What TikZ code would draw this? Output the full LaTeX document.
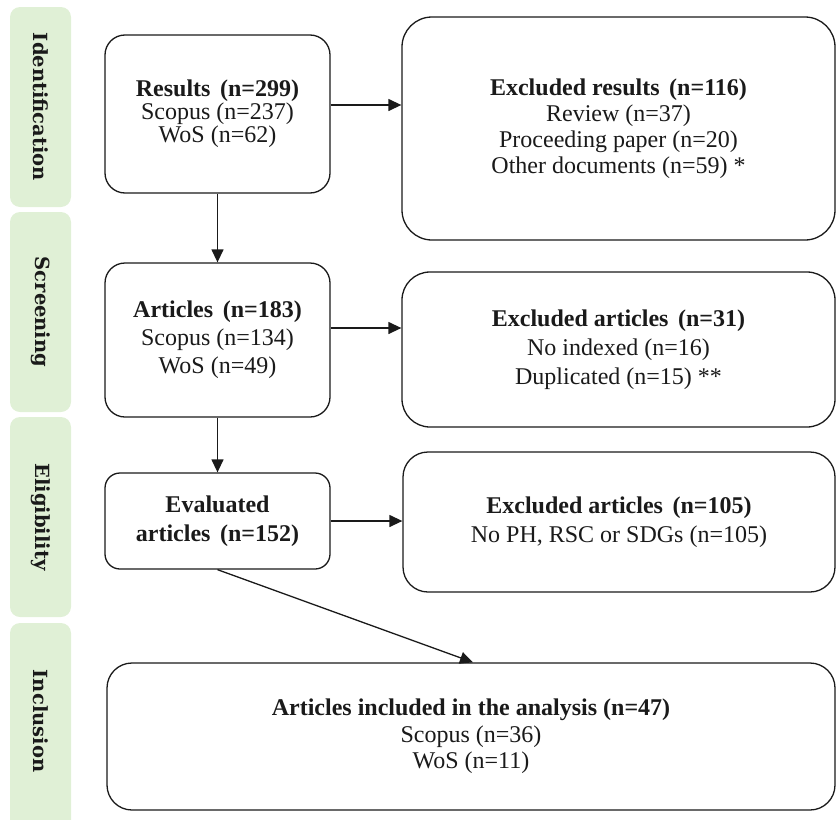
\documentclass[tikz,border=0pt]{standalone}
\usepackage{fontspec}
\setmainfont{Liberation Serif}
\newfontfamily\barfont{DejaVu Serif}
\usetikzlibrary{arrows.meta}
\definecolor{barg}{HTML}{E0F0D6}
\definecolor{ink}{HTML}{1A1A1A}
\tikzset{
  flowbox/.style={draw=ink, line width=1.3pt, fill=white, align=center, inner sep=0pt,
    text=ink, font=\fontsize{24}{#1}\selectfont},
  phasebar/.style={fill=barg, rounded corners=10pt},
  arr/.style={draw=ink, line width=1.3pt, -{Triangle[length=13pt,width=12pt]}},
  barlabel/.style={rotate=-90, font=\barfont\bfseries\fontsize{19.5}{19.5}\selectfont, text=ink}
}
\newcommand{\gapsp}{\hspace{0.4em}}
\begin{document}
\begin{tikzpicture}[x=1pt,y=-1pt]
\useasboundingbox (0,0) rectangle (837,819);
\begin{scope}
\clip (0,0) rectangle (837,819);
% phase bars
\fill[phasebar] (10,7) rectangle (71,207);
\fill[phasebar] (10,212) rectangle (71,412);
\fill[phasebar] (10,417) rectangle (71,617);
\fill[phasebar] (10,623) rectangle (71,835);
\end{scope}
\node[barlabel] (l1) at (41,107) {Identification};
\node[barlabel] (l2) at (41,312) {Screening};
\node[barlabel] (l3) at (41,517) {Eligibility};
\node[barlabel] (l4) at (41,721) {Inclusion};

% boxes
\node[flowbox=23, minimum width=225pt, minimum height=158pt, rounded corners=20pt] (b1) at (217.5,114)
  {\textbf{Results\gapsp(n=299)}\\Scopus (n=237)\\WoS (n=62)};
\node[flowbox=26, minimum width=433pt, minimum height=223pt, rounded corners=30pt] (b2) at (618.5,128.5)
  {\textbf{Excluded results\gapsp(n=116)}\\Review (n=37)\\Proceeding paper (n=20)\\Other documents (n=59) *};
\node[flowbox=28, minimum width=225pt, minimum height=154pt, rounded corners=20pt] (b3) at (217.5,340)
  {\textbf{Articles\gapsp(n=183)}\\Scopus (n=134)\\WoS (n=49)};
\node[flowbox=29, minimum width=433pt, minimum height=155pt, rounded corners=28pt] (b4) at (618.5,349.5)
  {\textbf{Excluded articles\gapsp(n=31)}\\No indexed (n=16)\\Duplicated (n=15) **};
\node[flowbox=29, minimum width=225pt, minimum height=96pt, rounded corners=15pt] (b5) at (217.5,521)
  {\textbf{Evaluated}\\\textbf{articles\gapsp(n=152)}};
\node[flowbox=29, minimum width=432pt, minimum height=140pt, rounded corners=25pt] (b6) at (619,522)
  {\textbf{Excluded articles\gapsp(n=105)}\\No PH, RSC or SDGs (n=105)};
\node[flowbox=26.5, minimum width=728pt, minimum height=147pt, rounded corners=25pt] (b7) at (471,736.5)
  {\textbf{Articles included in the analysis (n=47)}\\Scopus (n=36)\\WoS (n=11)};

% connectors
\coordinate (y12) at (0,105);
\coordinate (y34) at (0,328);
\coordinate (y56) at (0,521);
\coordinate (x7) at (473,0);
\draw[arr] (b1.east |- y12) -- (b2.west |- y12);
\draw[arr] (b1.south) -- (b3.north);
\draw[arr] (b3.east |- y34) -- (b4.west |- y34);
\draw[arr] (b3.south) -- (b5.north);
\draw[arr] (b5.east |- y56) -- (b6.west |- y56);
\draw[arr] (b5.south) -- (b7.north -| x7);
\end{tikzpicture}
\end{document}
